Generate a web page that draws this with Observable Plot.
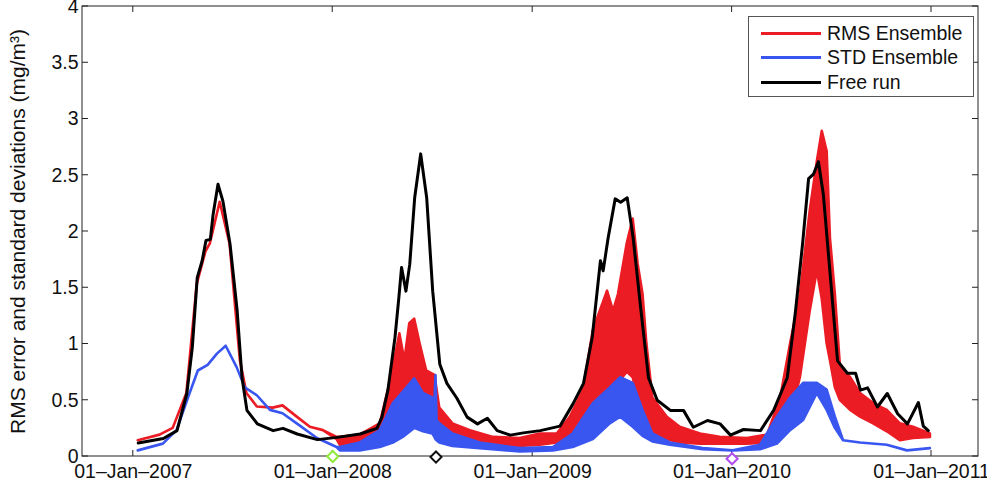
<!DOCTYPE html>
<html>
<head>
<meta charset="utf-8">
<script src="https://cdn.jsdelivr.net/npm/d3@7"></script>
<script src="https://cdn.jsdelivr.net/npm/@observablehq/plot@0.6"></script>
<style>
  html, body { margin: 0; padding: 0; background: white; }
  #wrap { position: relative; width: 987px; height: 487px; font-family: "Liberation Sans", Arial, Helvetica, sans-serif; }
  #legend { position: absolute; left: 748px; top: 16px; width: 224px; height: 79px; border: 1px solid #555; background: white; box-sizing: content-box; }
  .row { position: absolute; left: 0; height: 24px; display: flex; align-items: center; }
  .sw { width: 60px; height: 3px; margin-left: 12px; margin-right: 6px; }
  .lab { font-size: 19.5px; color: #111; white-space: nowrap; }
</style>
</head>
<body>
<div id="wrap"></div>
<script>
// ---------- data ----------
const yTickValues = [0, 0.5, 1, 1.5, 2, 2.5, 3, 3.5, 4];
const xTickDates = ["2007-01-01", "2008-01-01", "2009-01-01", "2010-01-01", "2011-01-01"];

const freeDates = ["2007-01-10","2007-02-25","2007-03-22","2007-04-09","2007-04-19","2007-04-28","2007-05-07","2007-05-14","2007-05-22","2007-05-27","2007-06-05","2007-06-14","2007-06-27","2007-07-10","2007-07-19","2007-07-28","2007-08-16","2007-09-14","2007-10-02","2007-10-28","2007-12-04",
"2008-01-09","2008-02-20","2008-03-22","2008-03-31","2008-04-11","2008-04-24","2008-05-01","2008-05-06","2008-05-14","2008-05-21","2008-05-30","2008-06-10","2008-06-21","2008-07-02","2008-07-15","2008-07-28","2008-08-15","2008-09-03","2008-09-22","2008-10-10","2008-10-28","2008-11-21","2008-12-15",
"2009-01-15","2009-02-20","2009-03-16","2009-04-04","2009-04-20","2009-05-05","2009-05-10","2009-05-19","2009-06-01","2009-06-11","2009-06-23","2009-07-04","2009-07-17","2009-08-01","2009-08-17","2009-09-10","2009-10-04","2009-10-22","2009-11-17","2009-12-10","2009-12-29",
"2010-01-22","2010-02-22","2010-03-18","2010-04-12","2010-04-27","2010-05-10","2010-05-21","2010-05-30","2010-06-08","2010-06-17","2010-06-30","2010-07-13","2010-07-31","2010-08-15","2010-08-24","2010-09-06","2010-09-24","2010-10-12","2010-10-31","2010-11-18","2010-12-08","2010-12-17","2010-12-26"];
const freeValues = [0.12,0.16,0.23,0.56,0.97,1.59,1.74,1.92,1.93,2.15,2.42,2.27,1.89,1.30,0.70,0.41,0.29,0.23,0.25,0.20,0.15,
0.17,0.20,0.25,0.35,0.59,1.06,1.41,1.68,1.47,1.71,2.30,2.69,2.30,1.47,0.82,0.65,0.52,0.35,0.29,0.34,0.23,0.19,0.21,
0.23,0.27,0.47,0.65,1.06,1.74,1.65,1.94,2.29,2.26,2.30,1.94,1.35,0.70,0.50,0.41,0.41,0.26,0.32,0.29,0.19,
0.24,0.23,0.41,0.70,1.29,1.89,2.47,2.51,2.62,2.33,1.59,0.85,0.74,0.74,0.59,0.61,0.44,0.56,0.38,0.29,0.48,0.27,0.23];

const rmsDates = ["2007-01-10","2007-02-19","2007-03-15","2007-04-09","2007-04-28","2007-05-14","2007-05-22","2007-06-09","2007-06-27","2007-07-16","2007-07-28","2007-08-16","2007-09-14","2007-10-02","2007-10-28","2007-11-21","2007-12-15",
"2008-01-09","2008-01-15","2008-02-20","2008-03-28","2008-04-15","2008-05-03","2008-05-12","2008-05-21","2008-05-30","2008-06-09","2008-06-21","2008-07-06","2008-07-15","2008-08-08","2008-09-09","2008-10-21","2008-12-09",
"2009-01-15","2009-02-15","2009-03-11","2009-04-04","2009-04-22","2009-05-18","2009-05-29","2009-06-07","2009-06-23","2009-07-04","2009-07-13","2009-07-22","2009-07-29","2009-08-09","2009-09-04","2009-09-28","2009-11-04","2009-12-10",
"2010-01-29","2010-03-07","2010-03-31","2010-04-18","2010-05-06","2010-05-24","2010-06-06","2010-06-15","2010-06-24","2010-06-30","2010-07-09","2010-07-18","2010-08-06","2010-08-24","2010-09-17","2010-10-12","2010-11-05","2010-11-29","2010-12-30"];
const rmsUpper = [0.14,0.19,0.25,0.56,1.53,1.82,1.89,2.26,1.89,0.85,0.56,0.44,0.43,0.45,0.35,0.26,0.23,
0.17,0.17,0.19,0.29,0.65,1.09,0.85,1.18,1.22,1.00,0.76,0.72,0.43,0.29,0.23,0.17,0.16,
0.20,0.20,0.35,0.59,1.12,1.47,1.29,1.44,1.89,2.11,1.71,1.44,1.00,0.52,0.35,0.26,0.20,0.17,
0.16,0.19,0.52,1.00,1.44,2.18,2.62,2.89,2.71,1.94,1.44,0.82,0.70,0.56,0.47,0.41,0.29,0.26,0.20];
const rmsLower = [0.14,0.19,0.25,0.56,1.53,1.82,1.89,2.26,1.89,0.85,0.56,0.44,0.43,0.45,0.35,0.26,0.23,
0.15,0.10,0.10,0.14,0.25,0.35,0.40,0.45,0.50,0.50,0.40,0.30,0.22,0.15,0.12,0.10,0.09,
0.10,0.12,0.15,0.25,0.40,0.55,0.60,0.65,0.75,0.70,0.50,0.35,0.25,0.20,0.15,0.12,0.11,0.11,
0.11,0.12,0.20,0.35,0.70,1.29,1.65,1.40,1.00,0.85,0.61,0.50,0.41,0.35,0.29,0.22,0.14,0.16,0.17];

const stdDates = ["2007-01-10","2007-02-25","2007-03-22","2007-04-15","2007-04-30","2007-05-18","2007-06-04","2007-06-20","2007-07-10","2007-07-25","2007-08-16","2007-09-09","2007-10-02","2007-10-28","2007-12-04",
"2008-01-09","2008-01-15","2008-02-20","2008-03-28","2008-04-21","2008-05-09","2008-05-30","2008-06-15","2008-07-02","2008-07-06","2008-07-08","2008-07-10","2008-07-15","2008-08-08","2008-09-27","2008-12-09",
"2009-02-08","2009-03-16","2009-04-22","2009-05-23","2009-06-11","2009-07-04","2009-07-22","2009-08-09","2009-09-10","2009-11-09",
"2010-01-03","2010-02-22","2010-03-25","2010-04-18","2010-05-12","2010-06-06","2010-06-24","2010-07-09","2010-07-24","2010-08-24","2010-10-12","2010-11-18","2010-12-30"];
const stdUpper = [0.05,0.11,0.23,0.56,0.76,0.81,0.91,0.98,0.79,0.61,0.54,0.41,0.38,0.29,0.16,
0.08,0.08,0.12,0.23,0.47,0.57,0.69,0.56,0.52,0.48,0.72,0.32,0.29,0.20,0.12,0.07,
0.08,0.20,0.47,0.61,0.70,0.65,0.41,0.20,0.12,0.07,
0.05,0.10,0.35,0.52,0.65,0.65,0.59,0.35,0.14,0.12,0.10,0.05,0.07];
const stdLower = [0.05,0.11,0.23,0.56,0.76,0.81,0.91,0.98,0.79,0.61,0.54,0.41,0.38,0.29,0.16,
0.08,0.05,0.05,0.08,0.12,0.17,0.25,0.22,0.20,0.17,0.15,0.14,0.12,0.09,0.07,0.04,
0.05,0.08,0.15,0.29,0.35,0.26,0.18,0.13,0.10,0.06,
0.05,0.06,0.11,0.23,0.32,0.56,0.41,0.25,0.14,0.12,0.10,0.05,0.07];

const markerDates = ["2008-01-01", "2008-07-08", "2010-01-01"];
const markerValues = [0, -0.005, -0.02];
const markerColors = ["#8fea3a", "#111111", "#b04cf0"];

const seriesNames = ["RMS Ensemble", "STD Ensemble", "Free run"];
const seriesColors = ["#ec1c24", "#3a56f0", "#000000"];
const yTitle = "RMS error and standard deviations (mg/m\u00B3)";

// ---------- tables ----------
const P = d3.utcParse("%Y-%m-%d");
const free = freeDates.map((d, i) => ({date: P(d), v: freeValues[i]}));
const rms = rmsDates.map((d, i) => ({date: P(d), lo: rmsLower[i], hi: rmsUpper[i]}));
const std = stdDates.map((d, i) => ({date: P(d), lo: stdLower[i], hi: stdUpper[i]}));
const markers = markerDates.map((d, i) => ({date: P(d), v: markerValues[i], c: markerColors[i]}));
const xTicks = xTickDates.map(P);

const fmt = d3.utcFormat("%d\u2013%b\u2013%Y");

function frameAndTicks(index, scales, values, dims) {
  const x = scales.x, y = scales.y;
  const x0 = dims.marginLeft, x1 = dims.width - dims.marginRight;
  const y0 = dims.marginTop, y1 = dims.height - dims.marginBottom;
  const g = d3.create("svg:g").attr("fill", "none").attr("stroke", "#222").attr("stroke-width", 1);
  g.append("rect").attr("x", x0).attr("y", y0).attr("width", x1 - x0).attr("height", y1 - y0);
  const L = 6;
  for (const t of xTicks) {
    const px = x(t);
    g.append("line").attr("x1", px).attr("x2", px).attr("y1", y1).attr("y2", y1 - L);
    g.append("line").attr("x1", px).attr("x2", px).attr("y1", y0).attr("y2", y0 + L);
  }
  for (const v of yTickValues) {
    const py = y(v);
    g.append("line").attr("x1", x0).attr("x2", x0 + L).attr("y1", py).attr("y2", py);
    g.append("line").attr("x1", x1).attr("x2", x1 - L).attr("y1", py).attr("y2", py);
  }
  return g.node();
}

const chart = Plot.plot({
  width: 987,
  height: 487,
  marginLeft: 82,
  marginRight: 9,
  marginTop: 6,
  marginBottom: 31,
  style: {fontFamily: "'Liberation Sans', Arial, Helvetica, sans-serif", fontSize: "19.5px", background: "white", color: "#111", overflow: "visible"},
  x: {type: "utc", domain: [P("2006-09-30"), P("2011-03-28")]},
  y: {domain: [0, 4]},
  color: {type: "identity"},
  marks: [
    frameAndTicks,
    Plot.axisX({ticks: xTicks, tickFormat: fmt, tickSize: 0, tickPadding: 8, label: null}),
    Plot.axisY({ticks: yTickValues, tickFormat: d => String(d), tickSize: 0, tickPadding: 4, label: null}),
    Plot.text([yTitle], {frameAnchor: "left", dx: -64, rotate: -90, textAnchor: "middle", lineAnchor: "middle", fontSize: 21, fill: "#111"}),
    Plot.areaY(rms, {x: "date", y1: "lo", y2: "hi", fill: seriesColors[0], stroke: seriesColors[0], strokeWidth: 2.6}),
    Plot.areaY(std, {x: "date", y1: "lo", y2: "hi", fill: seriesColors[1], stroke: seriesColors[1], strokeWidth: 2.6}),
    Plot.line(free, {x: "date", y: "v", stroke: seriesColors[2], strokeWidth: 3}),
    Plot.dot(markers, {x: "date", y: "v", symbol: "diamond2", r: 5, stroke: "c", fill: "white", strokeWidth: 2})
  ]
});

const wrap = document.getElementById("wrap");
wrap.appendChild(chart);

// legend
const legend = document.createElement("div");
legend.id = "legend";
seriesNames.forEach((name, i) => {
  const row = document.createElement("div");
  row.className = "row";
  row.style.top = (4 + i * 24.5) + "px";
  const sw = document.createElement("div");
  sw.className = "sw";
  sw.style.background = seriesColors[i];
  const lab = document.createElement("span");
  lab.className = "lab";
  lab.textContent = name;
  row.appendChild(sw);
  row.appendChild(lab);
  legend.appendChild(row);
});
wrap.appendChild(legend);
</script>
</body>
</html>
